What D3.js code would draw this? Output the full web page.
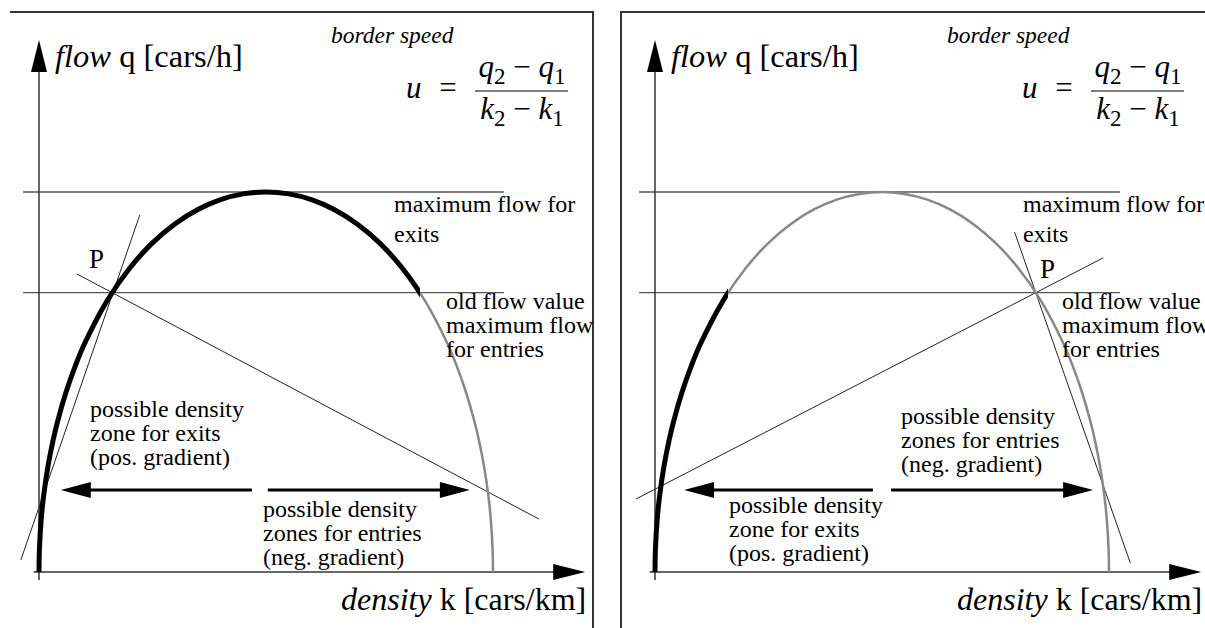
<!DOCTYPE html>
<html>
<head>
<meta charset="utf-8">
<script src="https://cdn.jsdelivr.net/npm/d3@7"></script>
<style>
  body { margin: 0; background: #fff; }
  svg { display: block; }
</style>
</head>
<body>
<svg id="chart" width="1205" height="628"></svg>
<script>
// Fundamental diagram of traffic flow: flow q [cars/h] against density k [cars/km]
const densityK = [0, 0.1, 0.5, 1, 2, 3, 4, 6, 8, 10, 15, 20, 25, 30, 35, 40, 45, 50,
                  55, 60, 65, 70, 75, 80, 85, 90, 92, 94, 96, 97, 98, 99, 99.5, 99.9, 100];
const flowQ    = [0, 126, 282, 398, 560, 682, 784, 950, 1085, 1200, 1428, 1600, 1732, 1833, 1908, 1960, 1990, 2000,
                  1990, 1960, 1908, 1833, 1732, 1600, 1428, 1200, 1085, 950, 784, 682, 560, 398, 282, 126, 0];

const maxFlow = 2000;          // maximum flow for exits
const oldFlow = 1470;          // old flow value / maximum flow for entries
const refLineK = [-3.5, 102.4]; // extent of the two horizontal reference lines
const arrowFlow = 432;         // height of the density-zone arrows

// Which part of the curve is drawn heavy, per panel
const heavyK = [[0, 83.9], [0, 16.1]];
// Secant lines through P per panel: [[k, q], [k, q]]
const secants = [
  [[[22.2, 1879], [-4.0, 63]], [[8.4, 1568], [110.1, 279]]],
  [[[79.2, 1789], [104.7, 47]], [[-4.2, 384], [98.7, 1653]]]
];
// Density-zone arrows per panel: shaft start -> tip (density)
const zoneArrows = [
  [[46.9, 4.8], [50.4, 94.9]],
  [[48.0, 6.4], [52.0, 96.5]]
];

// Text
const flowLabel = ["flow", " q [cars/h]"];
const densityLabel = ["density", " k [cars/km]"];
const borderSpeed = "border speed";
const maxFlowLines = ["maximum flow for", "exits"];
const oldFlowLines = ["old flow value", "maximum flow", "for entries"];
const exitZoneLines = ["possible density", "zone for exits", "(pos. gradient)"];
const entryZoneLines = ["possible density", "zones for entries", "(neg. gradient)"];

// Scales (shared by both panels; each panel is its own translated group)
const x = d3.scaleLinear().domain([0, 100]).range([39, 493]);
const y = d3.scaleLinear().domain([0, maxFlow]).range([572, 192]);

const svg = d3.select("#chart");
const FONT = '"Liberation Serif"';

// Panel frames
svg.append("path").attr("d", "M10,12H593V628")
  .attr("fill", "none").attr("stroke", "#333").attr("stroke-width", 2);
svg.append("path").attr("d", "M621,628V12H1205")
  .attr("fill", "none").attr("stroke", "#333").attr("stroke-width", 2);

const panelOffsets = [0, 616];
const layouts = [
  { maxText: 394, pText: [89, 268], exitText: [90, 417], entryText: [263, 517] },
  { maxText: 407, pText: [424, 278], exitText: [113, 513], entryText: [285, 424] }
];

const curvePts = densityK.map((k, i) => [k, flowQ[i]]);
const curveLine = d3.line().x(d => x(d[0])).y(d => y(d[1])).curve(d3.curveCatmullRom.alpha(0.5));

function txt(g, px, py, size) {
  return g.append("text").attr("x", px).attr("y", py).attr("font-size", size)
    .style("font-family", FONT);
}

function multiLine(g, lines, px, py, size, lh) {
  const t = txt(g, px, py, size);
  lines.forEach((s, i) => t.append("tspan").attr("x", px).attr("dy", i === 0 ? 0 : lh).text(s));
  return t;
}

panelOffsets.forEach((dx, p) => {
  const L = layouts[p];
  const g = svg.append("g").attr("transform", `translate(${dx},0)`);

  // Horizontal reference lines
  [maxFlow, oldFlow].forEach(q => {
    g.append("line")
      .attr("x1", x(refLineK[0])).attr("x2", x(refLineK[1]))
      .attr("y1", y(q)).attr("y2", y(q))
      .attr("stroke", "#555").attr("stroke-width", 1.3);
  });

  // Axes
  const axisColor = "#333";
  const yTip = y(2800), yBottom = y(-42);
  g.append("line").attr("x1", x(0)).attr("x2", x(0)).attr("y1", yBottom).attr("y2", yTip + 20)
    .attr("stroke", axisColor).attr("stroke-width", 1.5);
  g.append("path")
    .attr("d", `M${x(0)},${yTip}L${x(0) - 8},${yTip + 32}L${x(0) + 8},${yTip + 32}Z`)
    .attr("fill", "#000");
  const xTip = x(120.3), xStart = x(-1.2);
  g.append("line").attr("x1", xStart).attr("x2", xTip - 20).attr("y1", y(0)).attr("y2", y(0))
    .attr("stroke", axisColor).attr("stroke-width", 1.5);
  g.append("path")
    .attr("d", `M${xTip},${y(0)}L${xTip - 32},${y(0) - 8}L${xTip - 32},${y(0) + 8}Z`)
    .attr("fill", "#000");

  // Secant lines through P
  secants[p].forEach(s => {
    g.append("line")
      .attr("x1", x(s[0][0])).attr("y1", y(s[0][1]))
      .attr("x2", x(s[1][0])).attr("y2", y(s[1][1]))
      .attr("stroke", "#222").attr("stroke-width", 1);
  });

  // Flow-density curve: thin grey, heavy black part on top
  g.append("path").attr("d", curveLine(curvePts))
    .attr("fill", "none").attr("stroke", "#888").attr("stroke-width", 2.5);
  const clipId = "heavy" + p;
  g.append("clipPath").attr("id", clipId).append("rect")
    .attr("x", x(heavyK[p][0]) - 10).attr("y", 0)
    .attr("width", x(heavyK[p][1]) - x(heavyK[p][0]) + 10).attr("height", 628);
  g.append("path").attr("d", curveLine(curvePts))
    .attr("clip-path", `url(#${clipId})`)
    .attr("fill", "none").attr("stroke", "#000").attr("stroke-width", 5);

  // Density-zone arrows
  zoneArrows[p].forEach(a => {
    const x0 = x(a[0]), x1 = x(a[1]), ay = y(arrowFlow);
    const dir = Math.sign(x1 - x0);
    g.append("line").attr("x1", x0).attr("x2", x1 - dir * 25).attr("y1", ay).attr("y2", ay)
      .attr("stroke", "#000").attr("stroke-width", 3);
    g.append("path")
      .attr("d", `M${x1},${ay}L${x1 - dir * 30},${ay - 8}L${x1 - dir * 30},${ay + 8}Z`)
      .attr("fill", "#000");
  });

  // Axis titles
  const ft = txt(g, 55, 67, 32.5);
  ft.append("tspan").style("font-style", "italic").text(flowLabel[0]);
  ft.append("tspan").text(flowLabel[1]);
  const dt = txt(g, 341, 610, 32);
  dt.append("tspan").style("font-style", "italic").text(densityLabel[0]);
  dt.append("tspan").text(densityLabel[1]);

  // Border speed formula
  txt(g, 331, 43, 23.5).style("font-style", "italic").text(borderSpeed);
  txt(g, 406, 98, 31).style("font-style", "italic").text("u");
  txt(g, 448, 98, 31).attr("text-anchor", "middle").text("=");
  g.append("line").attr("x1", 475).attr("x2", 568).attr("y1", 91).attr("y2", 91)
    .attr("stroke", "#000").attr("stroke-width", 1.2);
  [["q", 77], ["k", 119]].forEach(([v, by]) => {
    const t = txt(g, 522, by, 31).attr("text-anchor", "middle");
    t.append("tspan").style("font-style", "italic").text(v);
    t.append("tspan").attr("font-size", 23).attr("dy", 7).text("2");
    t.append("tspan").attr("dy", -7).text(" \u2212 ");
    t.append("tspan").style("font-style", "italic").text(v);
    t.append("tspan").attr("font-size", 23).attr("dy", 7).text("1");
  });

  // Annotations
  multiLine(g, maxFlowLines, L.maxText, 212, 24, 30);
  multiLine(g, oldFlowLines, 446, 309, 24, 24);
  multiLine(g, exitZoneLines, L.exitText[0], L.exitText[1], 24, 24);
  multiLine(g, entryZoneLines, L.entryText[0], L.entryText[1], 24, 24);
  txt(g, L.pText[0], L.pText[1], 27).text("P");
});
</script>
</body>
</html>
